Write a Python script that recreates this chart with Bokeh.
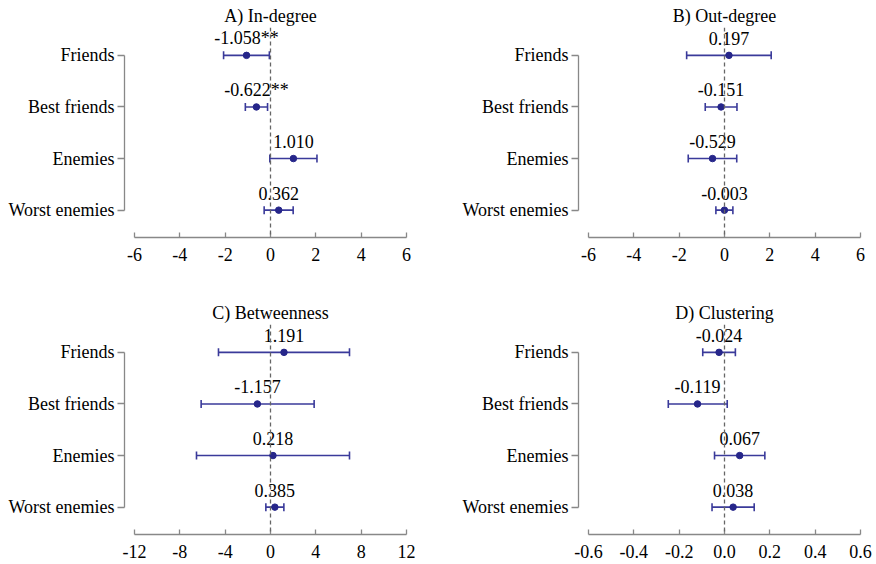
from bokeh.plotting import figure
from bokeh.models import (ColumnDataSource, Whisker, TeeHead, Span, FixedTicker, Range1d)
from bokeh.layouts import column, row
from bokeh.core.properties import value
from bokeh.embed import file_html
from bokeh.resources import INLINE

# ---------------- data ----------------
categories = ["Friends", "Best friends", "Enemies", "Worst enemies"]

indeg_est = [-1.058, -0.622, 1.010, 0.362]
indeg_lo = [-2.07, -1.11, -0.03, -0.28]
indeg_hi = [-0.05, -0.13, 2.05, 1.00]
indeg_sig = ["**", "**", "", ""]

outdeg_est = [0.197, -0.151, -0.529, -0.003]
outdeg_lo = [-1.67, -0.85, -1.60, -0.38]
outdeg_hi = [2.06, 0.55, 0.54, 0.37]
outdeg_sig = ["", "", "", ""]

betw_est = [1.191, -1.157, 0.218, 0.385]
betw_lo = [-4.59, -6.12, -6.53, -0.41]
betw_hi = [6.97, 3.85, 6.97, 1.18]
betw_sig = ["", "", "", ""]

clust_est = [-0.024, -0.119, 0.067, 0.038]
clust_lo = [-0.096, -0.248, -0.044, -0.055]
clust_hi = [0.048, 0.012, 0.178, 0.131]
clust_sig = ["", "", "", ""]

ticks_deg = [-6, -4, -2, 0, 2, 4, 6]
labels_deg = ["-6", "-4", "-2", "0", "2", "4", "6"]
ticks_betw = [-12, -8, -4, 0, 4, 8, 12]
labels_betw = ["-12", "-8", "-4", "0", "4", "8", "12"]
ticks_clust = [-0.6, -0.4, -0.2, 0.0, 0.2, 0.4, 0.6]
labels_clust = ["-0.6", "-0.4", "-0.2", "0.0", "0.2", "0.4", "0.6"]

titles = ["A) In-degree", "B) Out-degree", "C) Betweenness", "D) Clustering"]

# ---------------- style ----------------
FONT = "Liberation Serif"
FS = "18px"
LINE_COL = "#3a3a9a"
DOT_COL = "#26268a"
AXIS_COL = "#888888"
FRAME_W = 292
FRAME_H = 210
HALF_PX = FRAME_W / 2.0
INSET_PX = 10.0


def make_panel(title, est, lo, hi, sig, ticks, tick_labels, left_border, right_border,
               top_border, bottom_border):
    n = len(categories)
    ys = [n - 1 - i for i in range(n)]
    labels = [f"{v:.3f}{s}" for v, s in zip(est, sig)]
    src = ColumnDataSource(dict(y=ys, est=est, lo=lo, hi=hi, label=labels))

    tmax = max(abs(t) for t in ticks)
    xr = tmax * HALF_PX / (HALF_PX - INSET_PX)

    p = figure(frame_width=FRAME_W, frame_height=FRAME_H,
               x_range=Range1d(-xr, xr), y_range=Range1d(-0.53, n - 1 + 0.54),
               output_backend="svg", toolbar_location=None, tools="",
               min_border_left=left_border, min_border_right=right_border,
               min_border_top=top_border, min_border_bottom=bottom_border,
               background_fill_color="white", border_fill_color="white")
    p.outline_line_color = None
    p.xgrid.visible = False
    p.ygrid.visible = False

    p.title.text = title
    p.title.align = "center"
    p.title.text_font = FONT
    p.title.text_font_size = FS
    p.title.text_font_style = "normal"
    p.title.text_color = "black"
    p.title.standoff = 3

    # x axis
    xa = p.xaxis[0]
    xa.ticker = FixedTicker(ticks=ticks)
    xa.major_label_overrides = {t: l for t, l in zip(ticks, tick_labels)}
    xa.bounds = (ticks[0], ticks[-1])
    xa.axis_line_color = AXIS_COL
    xa.axis_line_width = 1.3
    xa.major_tick_line_color = AXIS_COL
    xa.major_tick_line_width = 1.3
    xa.major_tick_in = 5
    xa.major_tick_out = 0
    xa.minor_tick_line_color = None
    xa.major_label_text_font = FONT
    xa.major_label_text_font_size = FS
    xa.major_label_text_color = "black"
    xa.major_label_standoff = 10

    # y axis
    ya = p.yaxis[0]
    ya.ticker = FixedTicker(ticks=ys)
    ya.major_label_overrides = {y: c for y, c in zip(ys, categories)}
    ya.bounds = (0, n - 1)
    ya.axis_line_color = AXIS_COL
    ya.axis_line_width = 1.3
    ya.major_tick_line_color = AXIS_COL
    ya.major_tick_line_width = 1.3
    ya.major_tick_in = 0
    ya.major_tick_out = 7
    ya.minor_tick_line_color = None
    ya.major_label_text_font = FONT
    ya.major_label_text_font_size = FS
    ya.major_label_text_color = "black"
    ya.major_label_standoff = 3

    p.add_layout(Span(location=0, dimension="height", line_color="#666666",
                      line_width=1.3, line_dash="4 3"))

    p.add_layout(Whisker(source=src, base="y", lower="lo", upper="hi",
                         dimension="width", line_color=LINE_COL, line_width=1.6,
                         lower_head=TeeHead(size=8, line_color=LINE_COL, line_width=1.6),
                         upper_head=TeeHead(size=8, line_color=LINE_COL, line_width=1.6)))
    p.scatter(x="est", y="y", source=src, size=6.5, color=DOT_COL)
    p.text(x="est", y="y", text="label", source=src, text_align="center",
           text_baseline="alphabetic", y_offset=-17, text_font=value(FONT),
           text_font_size=FS, text_color="black")
    return p


pA = make_panel(titles[0], indeg_est, indeg_lo, indeg_hi, indeg_sig, ticks_deg, labels_deg,
                124, 22, 27, 62)
pB = make_panel(titles[1], outdeg_est, outdeg_lo, outdeg_hi, outdeg_sig, ticks_deg, labels_deg,
                140, 4, 27, 62)
pC = make_panel(titles[2], betw_est, betw_lo, betw_hi, betw_sig, ticks_betw, labels_betw,
                124, 22, 25, 28)
pD = make_panel(titles[3], clust_est, clust_lo, clust_hi, clust_sig, ticks_clust, labels_clust,
                140, 4, 25, 28)

layout = column(row(pA, pB), row(pC, pD))

with open("out.html", "w") as f:
    f.write(file_html(layout, INLINE))
